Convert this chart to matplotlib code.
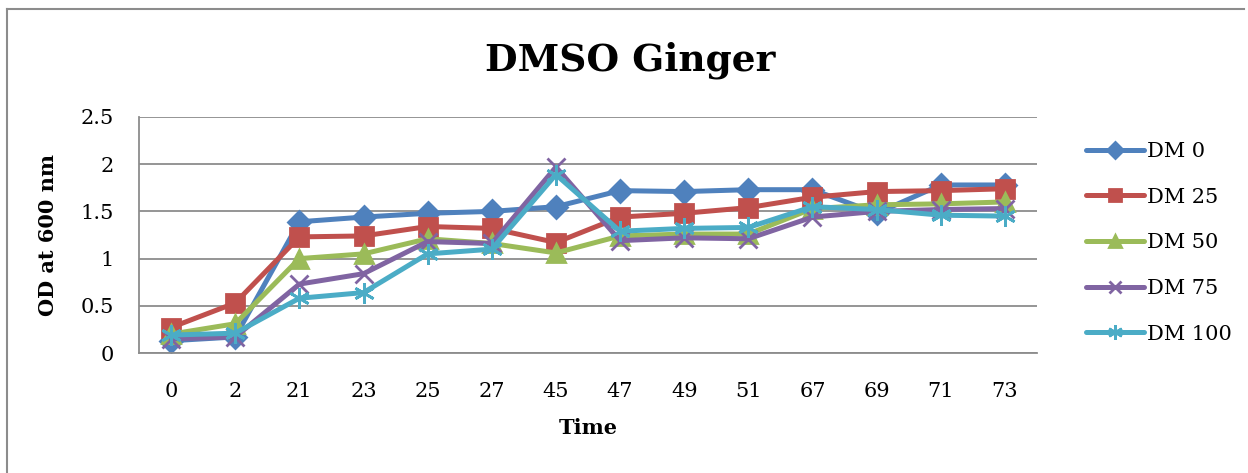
import matplotlib
matplotlib.use("Agg")
import matplotlib.pyplot as plt
from matplotlib.lines import Line2D

times = ["0", "2", "21", "23", "25", "27", "45", "47", "49", "51", "67", "69", "71", "73"]
dm0   = [0.13, 0.17, 1.39, 1.44, 1.48, 1.50, 1.55, 1.72, 1.71, 1.73, 1.73, 1.48, 1.78, 1.78]
dm25  = [0.27, 0.53, 1.23, 1.24, 1.34, 1.32, 1.17, 1.44, 1.48, 1.54, 1.65, 1.71, 1.72, 1.74]
dm50  = [0.20, 0.31, 1.00, 1.05, 1.21, 1.16, 1.06, 1.24, 1.26, 1.26, 1.53, 1.57, 1.58, 1.60]
dm75  = [0.15, 0.17, 0.73, 0.84, 1.18, 1.16, 1.97, 1.19, 1.22, 1.21, 1.44, 1.50, 1.52, 1.53]
dm100 = [0.19, 0.21, 0.58, 0.64, 1.05, 1.10, 1.89, 1.29, 1.32, 1.33, 1.55, 1.52, 1.46, 1.45]
series_names = ["DM 0", "DM 25", "DM 50", "DM 75", "DM 100"]

colors = ["#4F81BD", "#C0504D", "#9BBB59", "#8064A2", "#4BACC6"]
markers = ["D", "s", "^", "x", (6, 2, 0)]
msizes = [11, 13, 13, 13, 15]

plt.rcParams['font.family'] = ['DejaVu Serif']

fig = plt.figure(figsize=(12.48, 4.73), dpi=100)
ax = fig.add_axes([139/1248, 1-353/473, (1037-139)/1248, (353-117)/473])

x = list(range(len(times)))
for vals, name, c, m, ms in zip([dm0, dm25, dm50, dm75, dm100], series_names, colors, markers, msizes):
    ax.plot(x, vals, color=c, lw=3.6, marker=m, markersize=ms, markeredgewidth=2.0,
            markerfacecolor=c, markeredgecolor=c, label=name, solid_capstyle='round')

ax.set_xlim(-0.5, len(times) - 0.5)
ax.set_ylim(0, 2.5)
ax.set_yticks([0, 0.5, 1, 1.5, 2, 2.5])
ax.set_yticklabels(["0", "0.5", "1", "1.5", "2", "2.5"])
ax.set_xticks(x)
ax.set_xticklabels(times)
ax.tick_params(axis='both', length=0, labelsize=15)
ax.tick_params(axis='x', pad=21)
ax.tick_params(axis='y', pad=18)
ax.grid(axis='y', color='#8c8c8c', lw=1.3)
ax.set_axisbelow(True)
for s in ['top', 'right']:
    ax.spines[s].set_visible(False)
for s in ['left', 'bottom']:
    ax.spines[s].set_color('#8c8c8c')
    ax.spines[s].set_linewidth(1.3)

ax.set_xlabel("Time", fontsize=15, fontweight='bold', labelpad=12)
ax.set_ylabel("OD at 600 nm", fontsize=15, fontweight='bold', labelpad=16)
fig.text(630/1248, 1-60/473, "DMSO Ginger", fontsize=27, fontweight='bold', ha='center', va='center')

leg = ax.legend(loc='upper left', bbox_to_anchor=(1.045, 0.93), frameon=False, fontsize=15,
                handlelength=2.8, labelspacing=1.28, handletextpad=0.15, borderaxespad=0,
                markerscale=0.7)

# outer chart border
fig.add_artist(Line2D([7/1248, 7/1248], [0, 1-9/473], transform=fig.transFigure, color='#8c8c8c', lw=1.5))
fig.add_artist(Line2D([7/1248, 1244/1248], [1-9/473, 1-9/473], transform=fig.transFigure, color='#8c8c8c', lw=1.5))

fig.savefig("out.png", dpi=100)
